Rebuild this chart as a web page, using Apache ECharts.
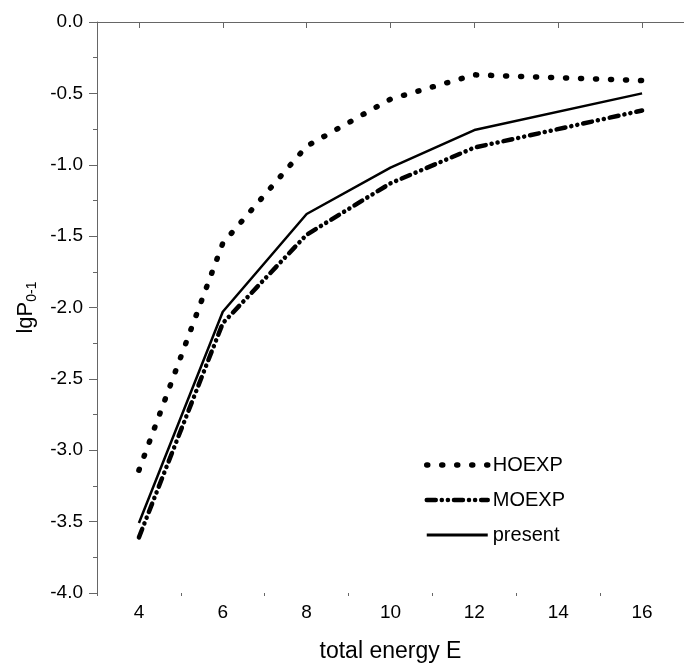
<!DOCTYPE html>
<html>
<head>
<meta charset="utf-8">
<script src="https://cdn.jsdelivr.net/npm/echarts@6/dist/echarts.min.js"></script>
<style>
  html, body { margin: 0; padding: 0; background: #fff; }
  #chart { width: 684px; height: 669px; }
</style>
</head>
<body>
<div id="chart"></div>
<script>
// 横轴：总能量 E
const energy = [4, 6, 8, 10, 12, 16];
const majorTicks = [4, 6, 8, 10, 12, 14, 16];
const minorTicks = [3, 5, 7, 9, 11, 13, 15, 17];
// lgP(0-1)
const hoexp = [-3.14, -1.55, -0.87, -0.54, -0.37, -0.41];
const moexp = [-3.61, -2.11, -1.49, -1.13, -0.88, -0.62];
const present = [-3.51, -2.03, -1.345, -1.02, -0.757, -0.50];

const toPairs = (ys) => energy.map((x, i) => [x, ys[i]]);
const font = 'Liberation Sans, Arial, sans-serif';
const axisGray = '#666';

const hoStyle = { color: '#000', width: 5.5, type: [1, 14], cap: 'round' };
const moStyle = { color: '#000', width: 4.5, type: [9, 6, 0.1, 6, 0.1, 6], cap: 'round' };
const prStyle = { color: '#000', width: 2.5 };

const myChart = echarts.init(document.getElementById('chart'));
myChart.setOption({
  animation: false,
  grid: { left: 97, top: 22, bottom: 76, right: -9 },
  legend: {
    orient: 'vertical',
    left: 419,
    top: 450,
    itemWidth: 61,
    itemHeight: 14,
    itemGap: 15,
    itemStyle: { opacity: 0 },
    textStyle: { fontFamily: font, fontSize: 20, color: '#000' },
    data: [
      { name: 'HOEXP', lineStyle: hoStyle },
      { name: 'MOEXP', lineStyle: moStyle },
      { name: 'present', lineStyle: { color: '#000', width: 3 } },
    ],
  },
  xAxis: [
    {
      type: 'value',
      min: 3,
      max: 17,
      interval: 1,
      name: 'total energy E',
      nameLocation: 'middle',
      nameGap: 47,
      nameTextStyle: { fontFamily: font, fontSize: 23, color: '#000' },
      axisLine: { lineStyle: { color: axisGray, width: 1 } },
      axisTick: { customValues: majorTicks, length: 6, lineStyle: { color: axisGray } },
      axisLabel: { customValues: majorTicks, fontFamily: font, fontSize: 19, color: '#000', margin: 10 },
      splitLine: { show: false },
    },
    {
      // odd minor ticks
      type: 'value',
      position: 'bottom',
      min: 3,
      max: 17,
      interval: 1,
      axisLine: { show: false },
      axisTick: { customValues: minorTicks, length: 3, lineStyle: { color: axisGray } },
      axisLabel: { show: false },
      splitLine: { show: false },
    },
    {
      // top frame line
      type: 'value',
      position: 'top',
      min: 3,
      max: 17,
      axisLine: { lineStyle: { color: axisGray, width: 1 } },
      axisTick: { show: false },
      axisLabel: { show: false },
      splitLine: { show: false },
    },
  ],
  yAxis: {
    type: 'value',
    min: -4,
    max: 0,
    interval: 0.5,
    name: '{a|lgP}{b|0-1}',
    nameLocation: 'middle',
    nameGap: 54,
    nameTextStyle: {
      rich: {
        a: { fontFamily: font, fontSize: 22, color: '#000' },
        b: { fontFamily: font, fontSize: 14, color: '#000', padding: [12, 0, 0, 0] },
      },
    },
    axisLine: { show: true, lineStyle: { color: axisGray, width: 1 } },
    axisTick: { length: 8, lineStyle: { color: axisGray } },
    minorTick: { show: true, splitNumber: 2, length: 4, lineStyle: { color: axisGray } },
    axisLabel: {
      fontFamily: font,
      fontSize: 19,
      color: '#000',
      margin: 14,
      formatter: (v) => v.toFixed(1),
    },
    splitLine: { show: false },
  },
  series: [
    {
      name: 'HOEXP',
      type: 'line',
      data: toPairs(hoexp),
      symbol: 'none',
      color: '#000',
      lineStyle: hoStyle,
    },
    {
      name: 'MOEXP',
      type: 'line',
      data: toPairs(moexp),
      symbol: 'none',
      color: '#000',
      lineStyle: moStyle,
    },
    {
      name: 'present',
      type: 'line',
      data: toPairs(present),
      symbol: 'none',
      color: '#000',
      lineStyle: prStyle,
    },
  ],
});
</script>
</body>
</html>
